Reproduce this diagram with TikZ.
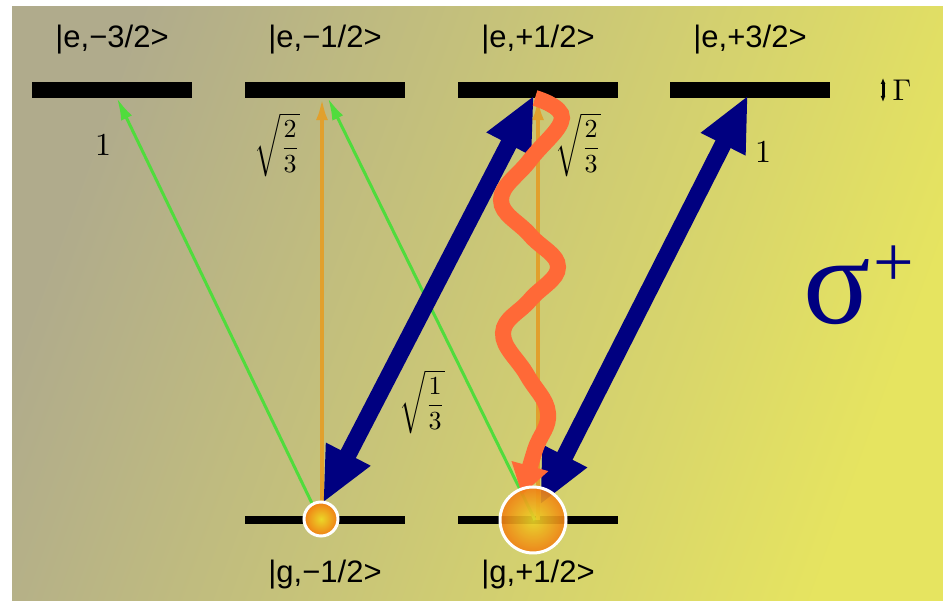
\documentclass[tikz,border=0pt]{standalone}
\usepackage{amsmath}
\usepackage{fontspec}
\setsansfont{Liberation Sans}
\newfontfamily\greekfont{Liberation Serif}
\usetikzlibrary{arrows.meta,positioning}
\definecolor{bgleft}{RGB}{176,171,140}
\definecolor{bgright}{RGB}{230,228,96}
\definecolor{navy}{RGB}{0,0,128}
\definecolor{laser}{RGB}{80,220,60}
\definecolor{amber}{RGB}{225,160,45}
\definecolor{photon}{RGB}{255,105,55}
\definecolor{atom}{RGB}{240,125,20}
\definecolor{atomcore}{RGB}{235,215,40}

\tikzset{
  ebar/.style={fill=black, inner sep=0pt, minimum width=160pt, minimum height=16pt},
  gbar/.style={fill=black, inner sep=0pt, minimum width=160pt, minimum height=8pt},
  statelabel/.style={font=\sffamily\fontsize{31}{33}\selectfont, inner sep=0pt},
  coef/.style={inner sep=0pt, scale=3.2, transform shape},
  root/.style={inner sep=0pt, scale=2.6, transform shape},
  weak/.style={line width=3pt, -{Latex[length=22pt,width=12pt]}},
  pump/.style={navy, line width=17pt, {Triangle[length=55pt,width=46pt]}-{Triangle[length=55pt,width=46pt]}},
  wave/.style={photon, line width=16pt, -{Triangle[length=30pt,width=36pt]}},
  atomball/.style={circle, shade, draw=white, line width=3pt, inner color=atomcore, outer color=atom, inner sep=0pt},
}

\begin{document}
\begin{tikzpicture}[x=1pt,y=1pt]
\useasboundingbox (0,0) rectangle (943,601);
\shade[top color=bgleft, bottom color=bgright, shading angle=70] (12,0) rectangle (943,594);

% excited and ground levels
\foreach \name/\x/\txt in {em3/112/{|e,−3/2>}, em1/325/{|e,−1/2>}, ep1/538/{|e,+1/2>}, ep3/750/{|e,+3/2>}}{
  \node[ebar] (\name) at (\x,511) {};
  \node[statelabel] (\name-lbl) at (\x,561) {\txt};
}
\node[gbar] (gm1) at (325,81) {};
\node[gbar] (gp1) at (538,81) {};
\node[statelabel] (gm1-lbl) at (325,26) {|g,−1/2>};
\node[statelabel] (gp1-lbl) at (538,26) {|g,+1/2>};

% weak transitions
\draw[weak, laser] ([xshift=-5pt]gm1.center) -- ([xshift=5pt]em3.south);
\draw[weak, amber, line width=4pt] ([xshift=-3pt]gm1.center) -- ([xshift=-3pt]em1.south);
\draw[weak, laser] ([xshift=-3pt]gp1.center) -- ([xshift=3pt]em1.south);
\draw[weak, amber, line width=4pt] (gp1.center) -- (ep1.south);

% strong sigma+ pumping
\draw[pump] ([xshift=-2pt,yshift=17pt]gm1.center) -- ([xshift=-4pt,yshift=3pt]ep1.south);
\draw[pump] ([xshift=2pt,yshift=15pt]gp1.center) -- ([xshift=-2pt,yshift=3pt]ep3.south);

% spontaneous emission
\draw[wave] plot[smooth, tension=0.7] coordinates {(535,503) (562,483) (530,441) (501,401) (530,366) (558,334) (530,301) (503,268) (527,226) (548,188) (535,151) (522,106)};

% atoms
\node[atomball, minimum size=34pt] (atomA) at (321,82) {};
\node[atomball, minimum size=66pt, fill opacity=0.9] (atomB) at (533,81) {};

% coefficients
\node[coef] (c1) at (103,456) {$1$};
\node[root] (c2) at (277,456) {$\sqrt{\dfrac{2}{3}}$};
\node[root] (c3) at (578,456) {$\sqrt{\dfrac{2}{3}}$};
\node[root] (c4) at (422,199) {$\sqrt{\dfrac{1}{3}}$};
\node[coef] (c5) at (763,449) {$1$};

% linewidth
\coordinate (gtop) at (883,523);
\coordinate (gbot) at (883,499);
\draw[line width=3pt, {Latex[length=6pt,width=5pt]}-{Latex[length=6pt,width=5pt]}] (gbot) -- (gtop);
\node[inner sep=0pt, scale=3, transform shape] (gamma) at (902,511) {$\Gamma$};

% polarisation
\node[inner sep=0pt, text=navy, font=\greekfont\fontsize{125}{125}\selectfont] (sigma) at (837,309) {σ};
\node[inner sep=0pt, text=navy, font=\greekfont\fontsize{72}{72}\selectfont] (plus) at (894,335) {+};
\end{tikzpicture}
\end{document}
